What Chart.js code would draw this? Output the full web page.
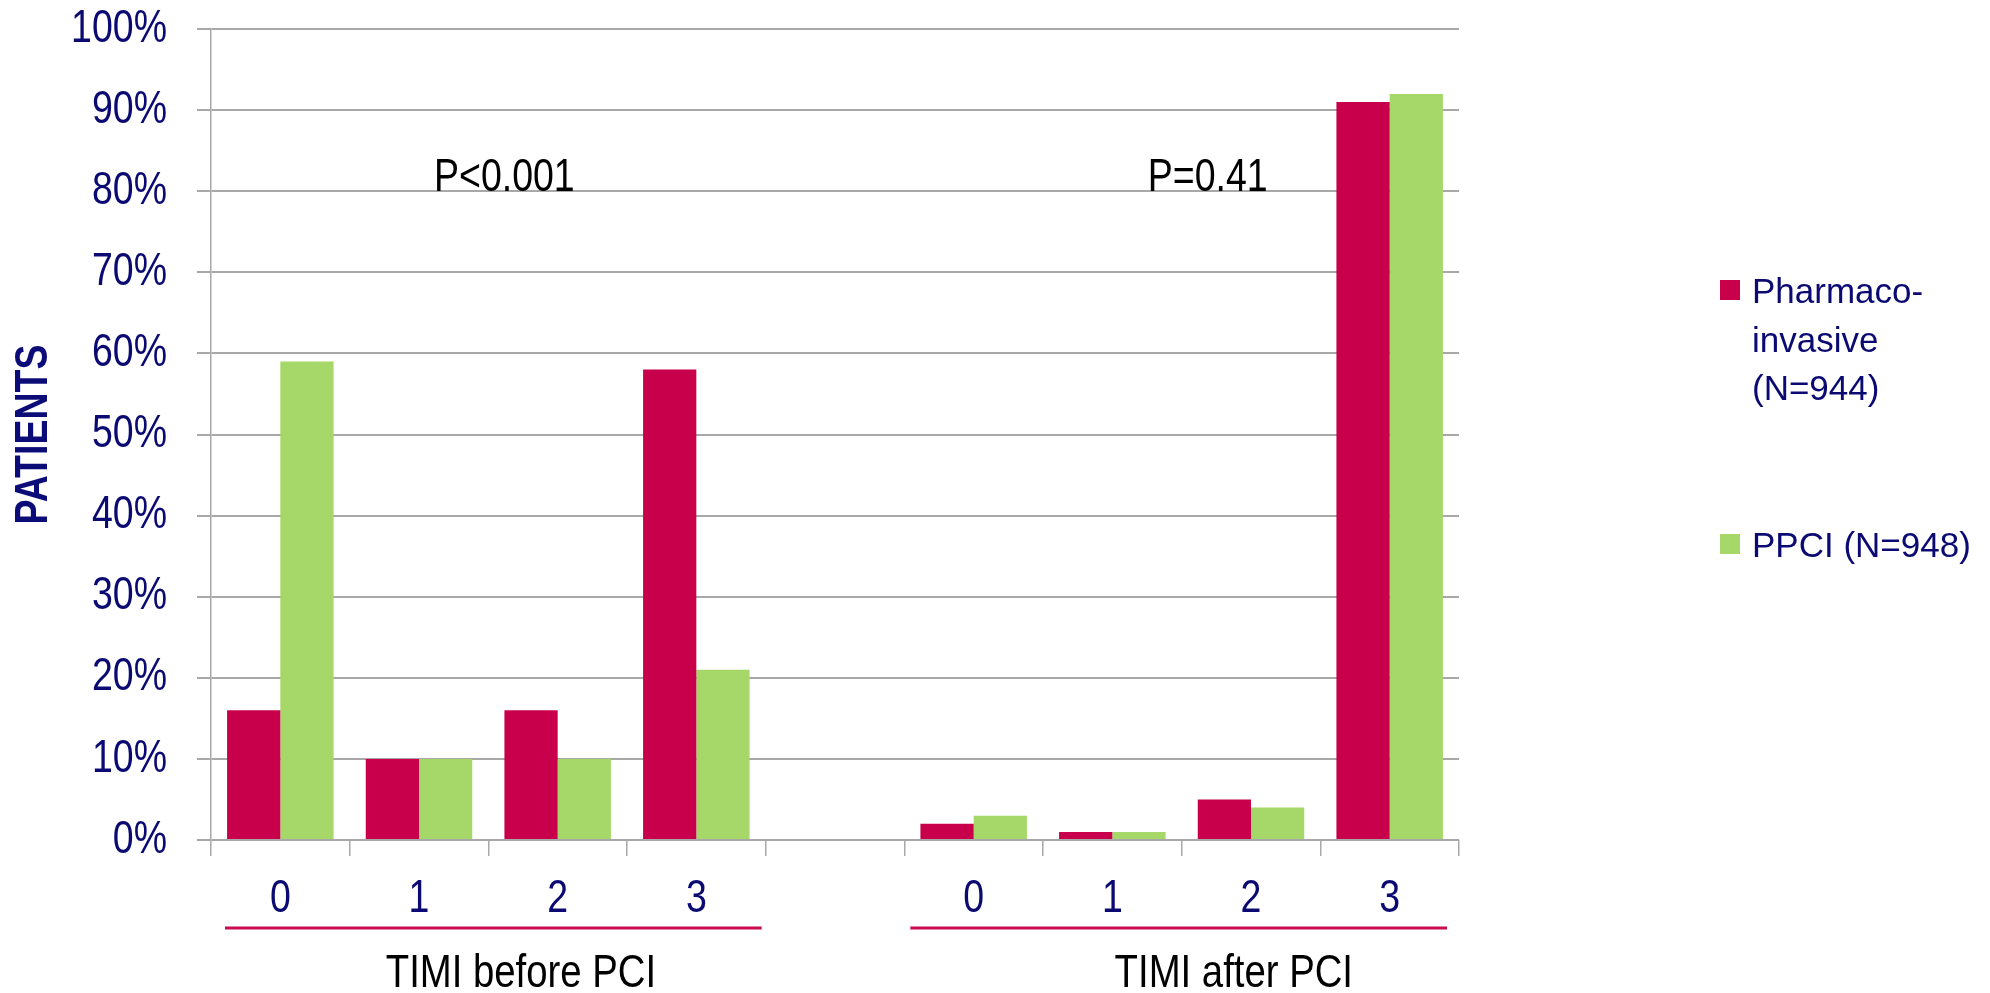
<!DOCTYPE html>
<html>
<head>
<meta charset="utf-8">
<script src="https://cdn.jsdelivr.net/npm/chart.js@4.4.1/dist/chart.umd.min.js"></script>
<style>
  html, body { margin: 0; padding: 0; background: #ffffff; overflow: hidden; }
  #wrap { width: 1990px; height: 993px; position: relative; }
</style>
</head>
<body>
<div id="wrap"><canvas id="chart" width="1990" height="993"></canvas></div>
<script>
// TIMI flow grade categories (blank slot separates the two panels)
const timiGrades = ['0', '1', '2', '3', '', '0', '1', '2', '3'];

// Percent of patients per TIMI grade
const pharmacoInvasive = [16, 10, 16, 58, null, 2, 1, 5, 91];
const ppci             = [59, 10, 10, 21, null, 3, 1, 4, 92];

// Series names, legend lines
const seriesNames  = ['Pharmaco-invasive (N=944)', 'PPCI (N=948)'];
const legendLines  = [['Pharmaco-', 'invasive', '(N=944)'], ['PPCI (N=948)']];
const seriesColors = ['#c8004b', '#a5d869'];

// Panel groupings and their p-values
const panelTitles  = ['TIMI before PCI', 'TIMI after PCI'];
const panelFirst   = [0, 5];
const panelLast    = [3, 8];
const panelPValues = ['P<0.001', 'P=0.41'];

// Y axis ticks (percent)
const yMin = 0, yMax = 100, yStep = 10;

const NARROW = '"Liberation Sans Narrow", "Liberation Sans", Arial, sans-serif';
const REGULAR = '"Liberation Sans", Arial, sans-serif';
const NAVY = '#0a0a72';
const GRID = '#a8a8a8';

const canvas = document.getElementById('chart');
const ctx2d = canvas.getContext('2d');

// No condensed face is installed, so text set in the narrow family is
// squeezed along its own reading direction around its anchor point.
const NARROW_SCALE = 0.815;
const nativeFillText = CanvasRenderingContext2D.prototype.fillText;
ctx2d.fillText = function (text, x, y, maxWidth) {
  if (this.font.indexOf('Narrow') !== -1) {
    this.save();
    this.translate(x, y);
    this.scale(NARROW_SCALE, 1);
    nativeFillText.call(this, text, 0, 0);
    this.restore();
  } else if (maxWidth !== undefined) {
    nativeFillText.call(this, text, x, y, maxWidth);
  } else {
    nativeFillText.call(this, text, x, y);
  }
};

// Panel underlines, panel titles, p-values and the legend
const annotations = {
  id: 'annotations',
  afterDraw(chart) {
    const ctx = chart.ctx;
    const xs = chart.scales.x, ys = chart.scales.y;
    const area = chart.chartArea;
    // layout of each panel: underline insets and text anchors (in category units)
    const lineInset = [[14, 4], [6, 12]];
    const titleAt = [1.735, 6.876];
    const pAt = [1.108, 6.256];

    ctx.save();
    for (let i = 0; i < panelTitles.length; i++) {
      const x0 = xs.getPixelForValue(panelFirst[i] - 0.5) + lineInset[i][0];
      const x1 = xs.getPixelForValue(panelLast[i] + 0.5) - lineInset[i][1];
      ctx.strokeStyle = '#cc0a50';
      ctx.lineWidth = 3;
      ctx.beginPath();
      ctx.moveTo(x0, 928);
      ctx.lineTo(x1, 928);
      ctx.stroke();

      ctx.fillStyle = '#000000';
      ctx.font = '47px ' + NARROW;
      ctx.textAlign = 'center';
      ctx.textBaseline = 'alphabetic';
      ctx.fillText(panelTitles[i], xs.getPixelForValue(titleAt[i]), 987);

      ctx.font = '46px ' + NARROW;
      ctx.textAlign = 'left';
      ctx.fillText(panelPValues[i], xs.getPixelForValue(pAt[i]), ys.getPixelForValue(80));
    }

    // legend
    const lx = area.right + 261;
    const tops = [280, 534];
    ctx.font = '35px ' + REGULAR;
    ctx.textAlign = 'left';
    ctx.textBaseline = 'alphabetic';
    for (let i = 0; i < legendLines.length; i++) {
      ctx.fillStyle = seriesColors[i];
      ctx.fillRect(lx, tops[i], 20, 20);
      ctx.fillStyle = NAVY;
      legendLines[i].forEach((line, j) => {
        ctx.fillText(line, lx + 32, tops[i] + 23 + j * 48.5);
      });
    }
    ctx.restore();
  }
};

new Chart(canvas, {
  type: 'bar',
  data: {
    labels: timiGrades,
    datasets: [
      { label: seriesNames[0], data: pharmacoInvasive, backgroundColor: seriesColors[0], borderWidth: 0 },
      { label: seriesNames[1], data: ppci, backgroundColor: seriesColors[1], borderWidth: 0 }
    ]
  },
  options: {
    responsive: false,
    animation: false,
    devicePixelRatio: 1,
    layout: { padding: { left: 0, top: 29, right: 531, bottom: 0 } },
    datasets: { bar: { categoryPercentage: 0.768, barPercentage: 1.0 } },
    plugins: {
      legend: { display: false },
      tooltip: { enabled: false }
    },
    scales: {
      x: {
        type: 'category',
        offset: true,
        afterFit(scale) { scale.height = 153; },
        grid: {
          offset: true,
          drawOnChartArea: false,
          drawTicks: true,
          tickLength: 16,
          color: GRID,
          lineWidth: 1.5
        },
        border: { display: false },
        ticks: {
          color: NAVY,
          font: { family: NARROW, size: 46, lineHeight: 1 },
          padding: 20,
          maxRotation: 0,
          autoSkip: false
        }
      },
      y: {
        min: yMin,
        max: yMax,
        afterFit(scale) {
          scale.width = 211;
          scale.paddingTop = 0;
          scale.paddingBottom = 0;
        },
        grid: {
          color: GRID,
          lineWidth: 2,
          tickLength: 14
        },
        border: { display: true, color: GRID, width: 1.5 },
        ticks: {
          stepSize: yStep,
          color: NAVY,
          font: { family: NARROW, size: 46, lineHeight: 1 },
          padding: 30,
          callback: (v) => v + '%'
        },
        title: {
          display: true,
          text: 'PATIENTS',
          color: '#0c0c78',
          font: { family: NARROW, size: 46, weight: 'bold', lineHeight: 1 },
          padding: { top: 11, bottom: 0 }
        }
      }
    }
  },
  plugins: [annotations]
});
</script>
</body>
</html>
